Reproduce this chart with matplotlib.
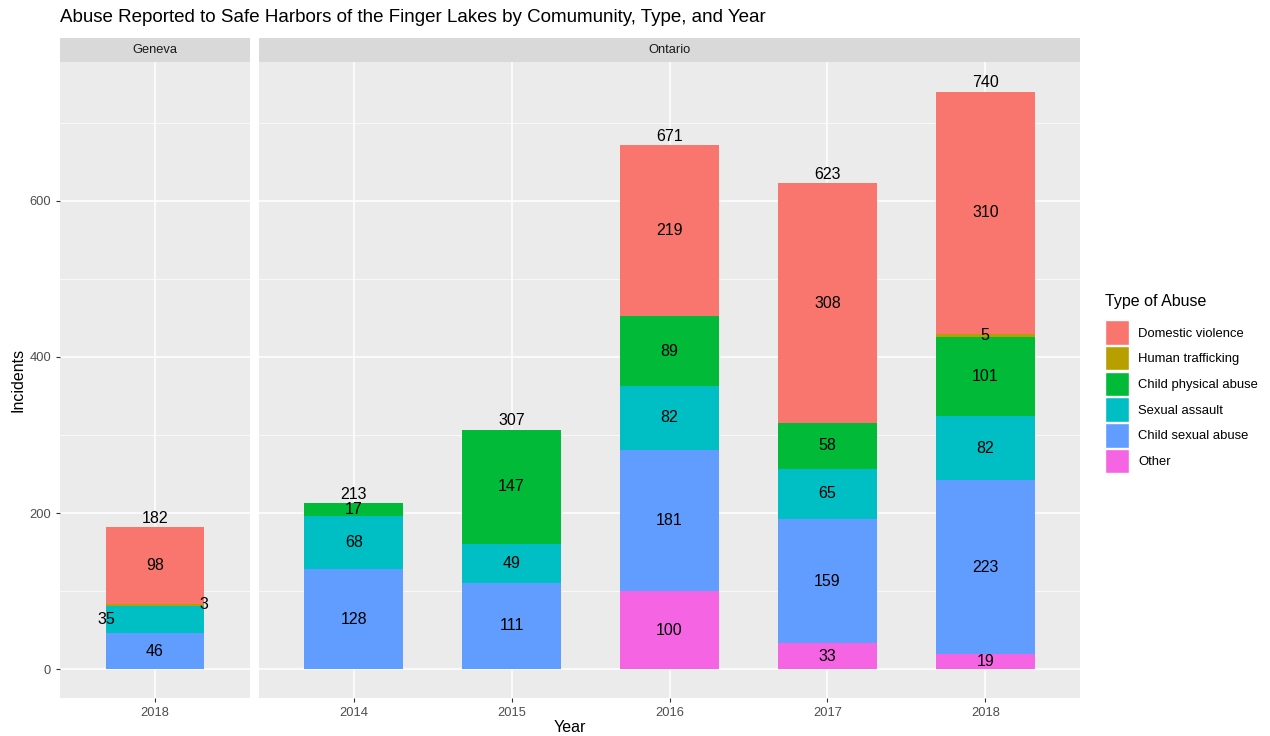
import numpy as np
import matplotlib.pyplot as plt
from matplotlib.patches import Patch

plt.rcParams['font.family'] = ['Liberation Sans', 'DejaVu Sans']

# data
types = ["Other", "Child sexual abuse", "Sexual assault",
         "Child physical abuse", "Human trafficking", "Domestic violence"]
colors = ["#F564E3", "#619CFF", "#00BFC4", "#00BA38", "#B79F00", "#F8766D"]

years_geneva = ["2018"]
other_gen = [0]
csa_gen = [46]
sa_gen = [35]
cpa_gen = [0]
ht_gen = [3]
dv_gen = [98]

years_ont = ["2014", "2015", "2016", "2017", "2018"]
other_ont = [0, 0, 100, 33, 19]
csa_ont = [128, 111, 181, 159, 223]
sa_ont = [68, 49, 82, 65, 82]
cpa_ont = [17, 147, 89, 58, 101]
ht_ont = [0, 0, 0, 0, 5]
dv_ont = [0, 0, 219, 308, 310]

fig = plt.figure(figsize=(12.7, 7.36), dpi=100)
W, H = 1270, 736

def px(l, t, r, b):
    return [l / W, 1 - b / H, (r - l) / W, (b - t) / H]

panels = [
    ("Geneva", years_geneva, [other_gen, csa_gen, sa_gen, cpa_gen, ht_gen, dv_gen], px(60, 62, 250, 698), px(60, 38, 250, 62)),
    ("Ontario", years_ont, [other_ont, csa_ont, sa_ont, cpa_ont, ht_ont, dv_ont], px(259, 62, 1080, 698), px(259, 38, 1080, 62)),
]

for name, years, series, pos, spos in panels:
    ax = fig.add_axes(pos)
    ax.set_facecolor("#EBEBEB")
    x = np.arange(len(years))
    bottom = np.zeros(len(years))
    for t, col, vals in zip(types, colors, series):
        vals = np.array(vals, dtype=float)
        ax.bar(x, vals, width=0.625, bottom=bottom, color=col, zorder=2)
        for i, v in enumerate(vals):
            if v > 0:
                dx = 0
                if name == "Geneva" and t == "Sexual assault":
                    dx = -0.31
                if name == "Geneva" and t == "Human trafficking":
                    dx = 0.31
                ax.text(x[i] + dx, bottom[i] + v / 2, f"{int(v)}", ha="center", va="center",
                        fontsize=11.5, color="black", zorder=3)
        bottom += vals
    for i, tot in enumerate(bottom):
        ax.annotate(f"{int(tot)}", (x[i], tot), xytext=(0, 1), textcoords="offset points",
                    ha="center", va="bottom", fontsize=11.5, color="black", zorder=3)
    ax.set_xlim(-0.6, len(years) - 0.4)
    ax.set_ylim(-37, 778)
    ax.set_xticks(x)
    ax.set_xticklabels(years)
    ax.set_yticks([0, 200, 400, 600])
    ax.set_yticks([100, 300, 500, 700], minor=True)
    ax.grid(True, which="major", color="white", linewidth=1.1, zorder=0)
    ax.grid(True, which="minor", axis="y", color="white", linewidth=0.5, zorder=0)
    ax.set_axisbelow(True)
    for s in ax.spines.values():
        s.set_visible(False)
    ax.tick_params(axis="both", which="major", colors="#333333", labelcolor="#4D4D4D",
                   labelsize=9.3, length=3, width=0.8)
    ax.tick_params(axis="y", which="minor", length=0)
    if name != "Geneva":
        ax.tick_params(axis="y", which="major", left=False, labelleft=False)
    sax = fig.add_axes(spos)
    sax.set_facecolor("#D9D9D9")
    sax.set_xticks([])
    sax.set_yticks([])
    for s in sax.spines.values():
        s.set_visible(False)
    sax.text(0.5, 0.5, name, ha="center", va="center", fontsize=9.3, color="#1A1A1A",
             transform=sax.transAxes)

fig.text(60 / W, 1 - 18 / H, "Abuse Reported to Safe Harbors of the Finger Lakes by Comumunity, Type, and Year",
         ha="left", va="center", fontsize=13.5)
fig.text(570 / W, 1 - 728 / H, "Year", ha="center", va="center", fontsize=11.5)
fig.text(18 / W, 1 - 380 / H, "Incidents", ha="center", va="center", rotation=90, fontsize=11.5)

handles = [Patch(facecolor=c, edgecolor="white", linewidth=1) for c in colors[::-1]]
leg = fig.legend(handles, types[::-1], title="Type of Abuse", loc="upper left",
                 bbox_to_anchor=(1100 / W, 1 - 289 / H), frameon=False, fontsize=9.4,
                 title_fontsize=11.5, handlelength=1.84, handleheight=2.5, labelspacing=0.1,
                 handletextpad=0.7, borderaxespad=0)
leg._legend_box.align = "left"
leg._legend_box.sep = 8

fig.savefig("out.png", dpi=100)
